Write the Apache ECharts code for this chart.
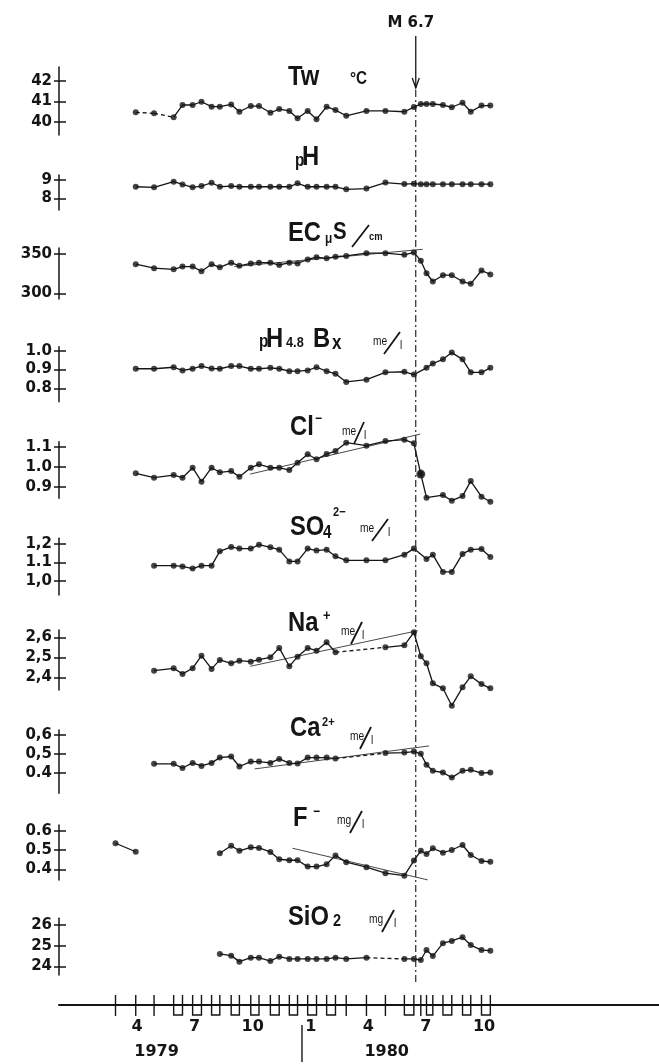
<!DOCTYPE html>
<html><head><meta charset="utf-8">
<script src="https://cdn.jsdelivr.net/npm/echarts@6/dist/echarts.min.js"></script>
<style>html,body{margin:0;padding:0;background:#fff}#c{width:659px;height:1064px}</style>
</head><body><div id="c"></div>
<script>
// ---------------- DATA ----------------
const sampleDates = ['1979-03-12','1979-04-13','1979-05-12','1979-06-12','1979-06-26','1979-07-12','1979-07-26','1979-08-11','1979-08-24','1979-09-11','1979-09-24','1979-10-12','1979-10-25','1979-11-12','1979-11-26','1979-12-12','1979-12-25','1980-01-10','1980-01-24','1980-02-09','1980-02-23','1980-03-11','1980-04-12','1980-05-12','1980-06-11','1980-06-26','1980-07-07','1980-07-16','1980-07-26','1980-08-11','1980-08-25','1980-09-11','1980-09-24','1980-10-11','1980-10-25'];

const twValues   = [null,40.46,40.41,40.22,40.82,40.82,40.98,40.74,40.74,40.85,40.49,40.77,40.77,40.44,40.62,40.53,40.17,40.53,40.12,40.74,40.57,40.29,40.53,40.53,40.49,40.72,40.87,40.87,40.87,40.82,40.71,40.93,40.49,40.79,40.79];
const phValues   = [null,8.63,8.60,8.91,8.76,8.60,8.67,8.85,8.63,8.67,8.63,8.63,8.63,8.63,8.63,8.63,8.82,8.63,8.63,8.63,8.63,8.49,8.53,8.86,8.78,8.80,8.77,8.77,8.77,8.77,8.77,8.77,8.77,8.77,8.77];
const ecValues   = [null,337,332,330.5,334,334,328,337,333,339,335,338,339,339,336,339,338,343,346,344.5,346.5,347.5,351,351,349,352,341.5,325.5,315,323,323,315,312,329,324];
const bxValues   = [null,0.904,0.904,0.912,0.895,0.904,0.918,0.905,0.904,0.918,0.918,0.904,0.904,0.909,0.904,0.891,0.891,0.895,0.912,0.891,0.877,0.834,0.846,0.885,0.888,0.873,null,0.909,0.932,0.954,0.99,0.954,0.885,0.885,0.909];
const clValues   = [null,0.967,0.945,0.958,0.945,0.995,0.925,0.995,0.972,0.978,0.95,0.995,1.012,0.995,0.995,0.983,1.02,1.062,1.037,1.063,1.078,1.12,1.105,1.128,1.135,1.117,0.963,0.845,null,0.858,0.83,0.853,0.928,0.85,0.825];
const so4Values  = [null,null,1.082,1.082,1.078,1.066,1.082,1.082,1.16,1.184,1.175,1.175,1.196,1.182,1.169,1.105,1.105,1.175,1.164,1.169,1.133,1.111,1.111,1.111,1.142,1.175,null,1.118,1.142,1.048,1.048,1.146,1.169,1.173,1.129];
const naValues   = [null,null,2.433,2.445,2.417,2.445,2.508,2.442,2.487,2.47,2.483,2.478,2.488,2.5,2.547,2.455,2.503,2.547,2.533,2.575,2.525,null,null,2.55,2.56,2.625,2.505,2.47,2.37,2.345,2.258,2.35,2.405,2.366,2.345];
const caValues   = [null,null,0.447,0.447,0.425,0.452,0.436,0.452,0.48,0.486,0.433,0.459,0.459,0.452,0.473,0.451,0.449,0.48,0.48,0.48,0.475,null,null,0.504,0.507,0.512,0.5,0.442,0.41,0.401,0.374,0.41,0.415,0.398,0.401];
const fValues    = [0.535,0.491,null,null,null,null,null,null,0.483,0.522,0.496,0.514,0.511,0.49,0.452,0.447,0.447,0.414,0.414,0.426,0.472,0.437,0.411,0.38,0.367,0.445,0.496,0.479,0.509,0.486,0.5,0.526,0.474,0.443,0.439];
const sio2Values = [null,null,null,null,null,null,null,null,24.6,24.52,24.23,24.42,24.42,24.26,24.47,24.36,24.36,24.36,24.36,24.36,24.42,24.36,24.42,null,24.36,24.36,24.31,24.79,24.5,25.12,25.23,25.41,25.03,24.79,24.76];

const ecTrend = [['1979-09-16',334],['1980-07-10',356]];
const clTrend = [['1979-10-11',0.963],['1980-07-06',1.163]];
const naTrend = [['1979-10-11',2.455],['1980-07-02',2.633]];
const caTrend = [['1979-10-18',0.42],['1980-07-20',0.542]];
const fTrend  = [['1979-12-17',0.509],['1980-07-18',0.345]];

const twTicks = [40,41,42];        const twTickLabels = ['40','41','42'];
const phTicks = [8,9];             const phTickLabels = ['8','9'];
const ecTicks = [300,350];         const ecTickLabels = ['300','350'];
const bxTicks = [0.8,0.9,1.0];     const bxTickLabels = ['0.8','0.9','1.0'];
const clTicks = [0.9,1.0,1.1];     const clTickLabels = ['0.9','1.0','1.1'];
const so4Ticks = [1.0,1.1,1.2];    const so4TickLabels = ['1,0','1.1','1,2'];
const naTicks = [2.4,2.5,2.6];     const naTickLabels = ['2,4','2,5','2,6'];
const caTicks = [0.4,0.5,0.6];     const caTickLabels = ['0.4','0,5','0,6'];
const fTicks = [0.4,0.5,0.6];      const fTickLabels = ['0.4','0.5','0.6'];
const sio2Ticks = [24,25,26];      const sio2TickLabels = ['24','25','26'];

const monthTickDates = ['1979-04-15','1979-07-15','1979-10-15','1980-01-15','1980-04-15','1980-07-15','1980-10-15'];
const monthTickLabels = ['4','7','10','1','4','7','10'];
const yearLabelDates = ['1979-05-16','1980-05-14'];
const yearLabels = ['1979','1980'];
const yearBoundary = '1980-01-01';
// sampling marks on the time axis (indices into sampleDates; pairs drawn as "U")
const sampleMarkGroups = [[0],[1],[2],[3,4],[5,6],[7,8],[9,10],[11,12],[13,14],[15,16],[17,18],[19,20],[21],[22],[23],[24,25],[26],[27,28],[29,30],[31,32],[33,34]];
const quakeDate = '1980-06-29';
const quakeLabel = 'M 6.7';

// ---------------- LAYOUT ----------------
const ts = s => Date.parse(s + 'T00:00:00Z');
const DAY = 864e5;
const X_ANCHOR_DATE = '1979-04-15', X_ANCHOR_PX = 137, PX_PER_DAY = 0.6321;
const GRID_LEFT = 59, CHART_W = 659;
const xMin = ts(X_ANCHOR_DATE) - (X_ANCHOR_PX - GRID_LEFT) / PX_PER_DAY * DAY;
const xMax = ts(X_ANCHOR_DATE) + (CHART_W - X_ANCHOR_PX) / PX_PER_DAY * DAY;
const INK = '#151515';
const LBL_FONT = '"DejaVu Sans", sans-serif';
const T_FONT = '"Liberation Sans", Arimo, Arial, sans-serif';
const T_SCALE = 0.85;

const panelDefs = [
  {vals: twValues, ticks: twTicks, labels: twTickLabels, axTop: 67, axBot: 135, tTop: 81, tBot: 121.7, gaps: {1:'dashed', 2:'dashed'}},
  {vals: phValues, ticks: phTicks, labels: phTickLabels, axTop: 175, axBot: 210, tTop: 180, tBot: 198.3},
  {vals: ecValues, ticks: ecTicks, labels: ecTickLabels, axTop: 248, axBot: 299, tTop: 254, tBot: 293.3, trends: [ecTrend]},
  {vals: bxValues, ticks: bxTicks, labels: bxTickLabels, axTop: 346.7, axBot: 401.7, tTop: 350.7, tBot: 388.3},
  {vals: clValues, ticks: clTicks, labels: clTickLabels, axTop: 441.7, axBot: 498.3, tTop: 446.7, tBot: 486.7, trends: [clTrend], big: [26]},
  {vals: so4Values, ticks: so4Ticks, labels: so4TickLabels, axTop: 538.3, axBot: 595, tTop: 544, tBot: 580.7},
  {vals: naValues, ticks: naTicks, labels: naTickLabels, axTop: 630, axBot: 690, tTop: 637.3, tBot: 677.3, gaps: {20:'dashed'}, trends: [naTrend]},
  {vals: caValues, ticks: caTicks, labels: caTickLabels, axTop: 730, axBot: 793.3, tTop: 735, tBot: 772.7, gaps: {20:'dashed'}, trends: [caTrend]},
  {vals: fValues, ticks: fTicks, labels: fTickLabels, axTop: 825, axBot: 880, tTop: 830.7, tBot: 869.3, gaps: {1:'none'}, trends: [fTrend]},
  {vals: sio2Values, ticks: sio2Ticks, labels: sio2TickLabels, axTop: 918.3, axBot: 975, tTop: 925, tBot: 966.4, gaps: {22:'dashed'}}
];

const option = {animation: false, backgroundColor: '#fff', grid: [], xAxis: [], yAxis: [], series: []};

panelDefs.forEach((p, gi) => {
  const lo = p.ticks[0], hi = p.ticks[p.ticks.length - 1];
  const ppu = (p.tBot - p.tTop) / (hi - lo);
  const max = hi + (p.tTop - p.axTop) / ppu;
  const min = lo - (p.axBot - p.tBot) / ppu;
  option.grid.push({left: GRID_LEFT, right: 0, top: p.axTop, height: p.axBot - p.axTop});
  option.xAxis.push({type: 'time', gridIndex: gi, min: xMin, max: xMax, show: false});
  const fmt = v => { const k = p.ticks.findIndex(t => Math.abs(t - v) < 1e-6); return k >= 0 ? p.labels[k] : ''; };
  option.yAxis.push({
    type: 'value', gridIndex: gi, min, max, position: 'left',
    axisLine: {show: true, lineStyle: {color: INK, width: 1.5}},
    axisTick: {show: true, inside: false, length: 5, customValues: p.ticks, lineStyle: {color: INK, width: 1.5}},
    axisLabel: {show: true, customValues: p.ticks, margin: 7, formatter: fmt, color: INK, fontFamily: LBL_FONT, fontSize: 15, fontWeight: 'bold'},
    splitLine: {show: false}
  });
  option.yAxis.push({
    type: 'value', gridIndex: gi, min, max, position: 'left',
    axisLine: {show: false},
    axisTick: {show: true, inside: true, length: 7, customValues: p.ticks, lineStyle: {color: INK, width: 1.5}},
    axisLabel: {show: false}, splitLine: {show: false}
  });
  const yi = 2 * gi;
  const pt = i => [ts(sampleDates[i]), p.vals[i]];
  const mkLine = (idxs, dashed) => ({
    type: 'line', xAxisIndex: gi, yAxisIndex: yi, data: idxs.map(pt), showSymbol: false, silent: true, z: 2, clip: false,
    lineStyle: {color: INK, width: 1.3, type: dashed ? [4, 3] : 'solid'}
  });
  const idx = [];
  p.vals.forEach((v, i) => { if (v != null) idx.push(i); });
  let run = [idx[0]];
  for (let k = 1; k < idx.length; k++) {
    const a = idx[k - 1], b = idx[k];
    const st = (p.gaps && p.gaps[a]) || 'solid';
    if (st === 'solid') run.push(b);
    else {
      if (run.length > 1) option.series.push(mkLine(run, false));
      if (st === 'dashed') option.series.push(mkLine([a, b], true));
      run = [b];
    }
  }
  if (run.length > 1) option.series.push(mkLine(run, false));
  option.series.push({
    type: 'scatter', xAxisIndex: gi, yAxisIndex: yi, data: idx.map(pt), symbol: 'circle', symbolSize: 6, clip: false,
    itemStyle: {color: INK}, silent: true, z: 3
  });
  if (p.big) option.series.push({
    type: 'scatter', xAxisIndex: gi, yAxisIndex: yi, data: p.big.map(pt), symbol: 'circle', symbolSize: 9, clip: false,
    itemStyle: {color: INK}, silent: true, z: 4
  });
  (p.trends || []).forEach(tr => option.series.push({
    type: 'line', xAxisIndex: gi, yAxisIndex: yi, data: tr.map(d => [ts(d[0]), d[1]]), showSymbol: false, silent: true, z: 1, clip: false,
    lineStyle: {color: '#333', width: 0.9}
  }));
});

// bottom time axis
const BG = panelDefs.length;
option.grid.push({left: GRID_LEFT, right: 0, top: 985, height: 20});
option.xAxis.push({type: 'time', gridIndex: BG, min: xMin, max: xMax, position: 'bottom',
  axisLine: {show: true, onZero: false, lineStyle: {color: INK, width: 2}}, axisTick: {show: false}, axisLabel: {show: false}, splitLine: {show: false}});
option.yAxis.push({type: 'value', gridIndex: BG, min: 0, max: 1, show: false});
const BY = option.yAxis.length - 1;

option.series.push({
  type: 'custom', xAxisIndex: BG, yAxisIndex: BY, clip: false, silent: true, z: 5,
  data: sampleMarkGroups.map(g => [ts(sampleDates[g[0]]), 0, ts(sampleDates[g[g.length - 1]]), g.length]),
  renderItem: (params, api) => {
    const a = api.coord([api.value(0), 0]), b = api.coord([api.value(2), 0]);
    const y = a[1];
    const style = {stroke: INK, lineWidth: 1.4, fill: null};
    if (api.value(3) === 1) return {type: 'line', shape: {x1: a[0], y1: y - 10, x2: a[0], y2: y + 11}, style};
    return {type: 'polyline', shape: {points: [[a[0], y - 10], [a[0], y + 10], [b[0], y + 10], [b[0], y - 10]]}, style};
  }
});
option.series.push({
  type: 'custom', xAxisIndex: BG, yAxisIndex: BY, clip: false, silent: true, z: 5,
  data: monthTickDates.map((d, i) => [ts(d), 0, i]),
  renderItem: (params, api) => {
    const a = api.coord([api.value(0), 0]);
    return {type: 'text', x: a[0], y: a[1] + 22, style: {text: monthTickLabels[api.value(2)], align: 'center', verticalAlign: 'middle', fill: INK, fontFamily: LBL_FONT, fontWeight: 'bold', fontSize: 16}};
  }
});
option.series.push({
  type: 'custom', xAxisIndex: BG, yAxisIndex: BY, clip: false, silent: true, z: 5,
  data: yearLabelDates.map((d, i) => [ts(d), 0, i]),
  renderItem: (params, api) => {
    const a = api.coord([api.value(0), 0]);
    return {type: 'text', x: a[0], y: a[1] + 47, style: {text: yearLabels[api.value(2)], align: 'center', verticalAlign: 'middle', fill: INK, fontFamily: LBL_FONT, fontWeight: 'bold', fontSize: 16}};
  }
});
option.series.push({
  type: 'custom', xAxisIndex: BG, yAxisIndex: BY, clip: false, silent: true, z: 5,
  data: [[ts(yearBoundary), 0]],
  renderItem: (params, api) => {
    const a = api.coord([api.value(0), 0]);
    return {type: 'line', shape: {x1: a[0], y1: a[1] + 20, x2: a[0], y2: a[1] + 57}, style: {stroke: INK, lineWidth: 1.4}};
  }
});

const chart = echarts.init(document.getElementById('c'), null, {renderer: 'canvas'});
chart.setOption(option);

// ---------------- titles & earthquake marker ----------------
const titleParts = [
  ['Tw', 288, 77, 28], ['°C', 350, 79, 18],
  ['p', 295, 161, 18], ['H', 302, 157, 28],
  ['EC', 288, 233, 28], ['μ', 325, 239, 14], ['S', 333, 232, 24], ['cm', 369, 237, 11],
  ['p', 259, 342, 18], ['H', 266, 339, 28], ['4.8', 286, 343, 15], ['B', 313, 339, 28], ['x', 332, 343, 20],
  ['Cl', 290, 427, 28], ['−', 315, 419, 14],
  ['SO', 290, 527, 28], ['4', 323, 533, 18], ['2−', 333, 512, 13],
  ['Na', 288, 623, 28], ['+', 323, 616, 15],
  ['Ca', 290, 728, 28], ['2+', 322, 722, 13],
  ['F', 293, 818, 28], ['−', 313, 812, 14],
  ['SiO', 288, 917, 28], ['2', 333, 921, 17]
];
const unitParts = [
  ['me', 373, 343, 12, 16], ['me', 342, 433, 13, 10], ['me', 360, 530, 13, 16],
  ['me', 341, 633, 11, 11], ['me', 350, 738, 11, 11], ['mg', 337, 822, 14, 12], ['mg', 369, 921, 14, 12]
];
const g = [];
const txt = (t, x, y, s, align, font, weight, sx) => ({type: 'text', x, y, silent: true, z: 10, scaleX: sx || 1,
  style: {text: t, fill: INK, fontFamily: font || T_FONT, fontSize: s, fontWeight: weight || 'bold', align: align || 'left', verticalAlign: 'middle'}});
const ln = (x1, y1, x2, y2, w, dash) => ({type: 'line', silent: true, z: 10, shape: {x1, y1, x2, y2}, style: {stroke: INK, lineWidth: w || 1.6, lineDash: dash || null}});
titleParts.forEach(t => g.push(txt(t[0], t[1], t[2], t[3], 'left', T_FONT, 'bold', T_SCALE)));
unitParts.forEach(u => {
  const [t, x, y, tw, sw] = u;
  g.push(txt(t, x, y - 1, 12, 'left', T_FONT, 'normal', T_SCALE));
  g.push(ln(x + tw - 1, y + 11, x + tw - 1 + sw, y - 11, 1.8));
  g.push(txt('l', x + tw + sw - 1, y + 3, 12, 'left', T_FONT, 'normal', T_SCALE));
});
g.push(ln(352, 247, 369, 225, 1.8)); // EC slash

const qx = chart.convertToPixel({xAxisIndex: 0}, ts(quakeDate));
g.push(ln(qx, 36, qx, 88, 1.3));
g.push({type: 'polyline', silent: true, z: 10, shape: {points: [[qx - 3.5, 78], [qx, 88], [qx + 3.5, 78]]}, style: {stroke: INK, lineWidth: 1.3, fill: null}});
g.push(ln(qx, 90, qx, 985, 1.1, [7, 3, 2, 3]));
g.push(txt(quakeLabel, qx - 5, 23, 15, 'center', LBL_FONT, 'bold'));

chart.setOption({graphic: g});
</script>
</body></html>
